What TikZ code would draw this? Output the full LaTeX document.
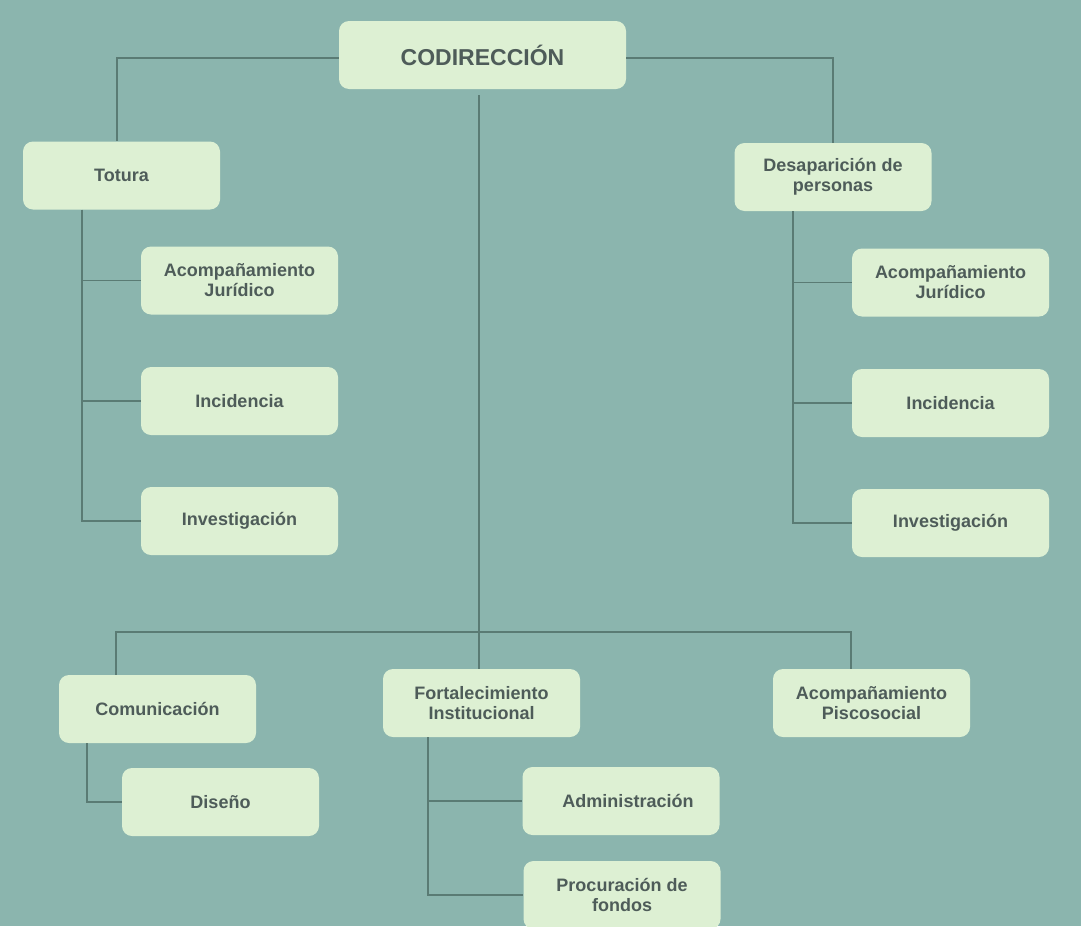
\documentclass[tikz,border=0pt]{standalone}
\usepackage{fontspec}
\setmainfont{Liberation Sans}
\definecolor{bgc}{HTML}{8BB5AE}
\definecolor{boxc}{HTML}{DDF0D3}
\definecolor{txtc}{HTML}{4E5C59}
\definecolor{linec}{HTML}{5A7B74}
\begin{document}
\begin{tikzpicture}[x=1pt,y=-1pt,
  box/.style={fill=boxc, draw=none, rounded corners=10pt, minimum width=197pt, minimum height=68pt, align=center, text=txtc, inner sep=0pt, font=\fontsize{18}{20}\selectfont\bfseries},
  conn/.style={draw=linec, line width=1.3pt}]
\useasboundingbox (0,0) rectangle (1081,926);
\fill[bgc] (0,0) rectangle (1081,926);
\coordinate (busL) at (116,632);
\coordinate (busR) at (851,632);
\coordinate (tl) at (82,0);
\coordinate (tr) at (793,0);
\coordinate (cl) at (87,0);
\coordinate (fl) at (428,0);
\coordinate (cx) at (479,0);
% nodes
\node[box, minimum width=287pt, font=\fontsize{23}{26}\selectfont\bfseries] (cod) at (482.5,55) {CODIRECCIÓN};
\node[box] (tot) at (121.5,175.5) {Totura};
\node[box] (ajl) at (239.5,280.5) {Acompañamiento\\Jurídico};
\node[box] (incl) at (239.5,401) {Incidencia};
\node[box] (invl) at (239.5,521) {Investigación};
\node[box] (des) at (833,177) {Desaparición de\\personas};
\node[box] (ajr) at (950.5,282.5) {Acompañamiento\\Jurídico};
\node[box] (incr) at (950.5,403) {Incidencia};
\node[box] (invr) at (950.5,523) {Investigación};
\node[box] (com) at (157.5,709) {Comunicación};
\node[box] (fort) at (481.5,703) {Fortalecimiento\\Institucional};
\node[box] (psi) at (871.5,703) {Acompañamiento\\Piscosocial};
\node[box] (dis) at (220.5,802) {Diseño};
\node[box] (adm) at (621,801) {\hspace*{14pt}Administración};
\node[box] (proc) at (622,895) {Procuración de\\fondos};
% top connectors
\draw[conn] ([yshift=-3pt]cod.west) -| ([xshift=-4.5pt]tot.north);
\draw[conn] ([yshift=-3pt]cod.east) -| (des.north);
\draw[conn] ([yshift=-6pt]cod.south -| cx) -- (fort.north -| cx);
\draw[conn] (com.north -| busL) |- (busR) -- (psi.north -| busR);
% left tree
\draw[conn] (tot.south -| tl) |- (invl.west);
\draw[conn] (ajl.west -| tl) -- (ajl.west);
\draw[conn] (incl.west -| tl) -- (incl.west);
% right tree
\draw[conn] (des.south -| tr) |- (invr.west);
\draw[conn] (ajr.west -| tr) -- (ajr.west);
\draw[conn] (incr.west -| tr) -- (incr.west);
% bottom trees
\draw[conn] (com.south -| cl) |- (dis.west);
\draw[conn] (fort.south -| fl) |- (proc.west);
\draw[conn] (adm.west -| fl) -- (adm.west);
\end{tikzpicture}
\end{document}
